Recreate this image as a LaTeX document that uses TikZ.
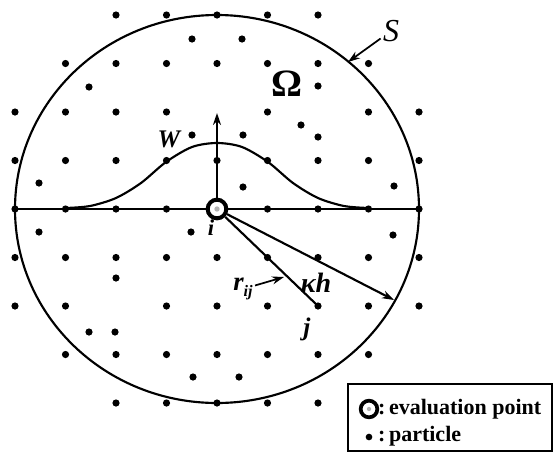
\documentclass[tikz,border=0pt]{standalone}
\usepackage{fontspec}
\setmainfont{Liberation Serif}
\usetikzlibrary{arrows.meta,positioning}

\begin{document}
\begin{tikzpicture}[
  x=0.75pt, y=-0.75pt,
  line width=1.6pt,
  particle/.style={circle, fill, inner sep=0pt, minimum size=5.4pt},
  evalpt/.style={circle, draw, line width=3pt, fill=white, inner sep=0pt, minimum size=14pt},
  lbl/.style={inner sep=1pt, font=\fontsize{19}{19}\selectfont\bfseries\itshape},
  legtext/.style={anchor=west, inner sep=0pt, font=\fontsize{16.5}{16.5}\selectfont\bfseries},
  arr/.style={-{Stealth[length=9pt,width=6pt]}}
]
  \useasboundingbox (0,0) rectangle (553,454);

  % support domain Omega and its boundary S
  \draw (217,209) ellipse [x radius=151.5pt, y radius=145.5pt];

  % regular particles, row by row
  \foreach \r/\cl in {0/{2,...,6}, 1/{1,...,7}, 2/{0,1,2,3,5,7,8}, 3/{0,...,8},
                      4/{0,1,2,3,5,6,7,8}, 5/{0,...,8}, 6/{0,1,3,4,5,7,8},
                      7/{1,...,7}, 8/{2,...,6}}
    \foreach \c in \cl
      \node[particle] (p-\r-\c) at ({15+50.5*\c},{15+48.5*\r}) {};
  % scattered particles
  \foreach \x/\y [count=\k] in {192/39, 242/39, 89/87, 318/86, 301/125, 318/137,
                               192/135, 243/135, 39/183, 243/187, 394/186, 39/232,
                               191/232, 393/235, 116/278, 89/332, 115/332, 193/377, 239/377}
    \node[particle] (e\k) at (\x,\y) {};
  \node[particle] (j) at (318,306) {};

  % diameter and kernel W
  \draw (p-4-0.center) -- (p-4-8.center);
  \draw plot[smooth] coordinates {(66,208) (90,206) (116,198) (141,183) (166,162)
    (192,147) (217,143) (242,147) (268,162) (293,183) (318,198) (344,206) (368,208)};

  \node[evalpt] (i) at (217,209) {};
  \fill[gray!60] (i) circle (2pt);

  \coordinate (top) at (217,113);
  \coordinate (rim) at (394,300);
  \coordinate (srim) at (348,62);
  \coordinate (rtip) at (284,277);

  \draw[arr] (i) -- (top);
  \draw[arr] (i) -- (rim);
  \draw (i) -- (j.center);

  % labels
  \node[lbl] (W) at (169,139) {W};
  \node[inner sep=0pt, font=\fontsize{29}{29}\selectfont\bfseries] (Om) at (287,84) {Ω};
  \node[lbl, font=\fontsize{24}{24}\selectfont\itshape] (S) at (391,31) {S};
  \node[lbl, font=\fontsize{17}{17}\selectfont\bfseries\itshape] (il) at (211,228) {i};
  \node[lbl, font=\fontsize{19}{19}\selectfont\bfseries\itshape] (jl) at (307,329) {j};
  \node[lbl, font=\fontsize{21}{21}\selectfont\bfseries\itshape] (kh) at (316,283) {κh};
  \node[lbl, font=\fontsize{20}{20}\selectfont\bfseries\itshape] (r) at (243,289)
    {r\raisebox{-4.5pt}{\fontsize{12}{12}\selectfont ij}};
  \draw[arr, line width=1.3pt] (S) -- (srim);
  \draw[arr, line width=1.3pt] (r) -- (rtip);

  % legend
  \draw[line width=1.5pt] (348,384) rectangle (551.5,451);
  \node[evalpt, minimum size=12.5pt, line width=2.8pt] (le) at (369,409) {};
  \fill[gray!60] (le) circle (1.6pt);
  \node[particle, minimum size=5pt] (lp) at (369,437) {};
  \node[legtext] (t1) at (377,409) {:\,evaluation point};
  \node[legtext] (t2) at (377,436) {:\,particle};
\end{tikzpicture}
\end{document}
